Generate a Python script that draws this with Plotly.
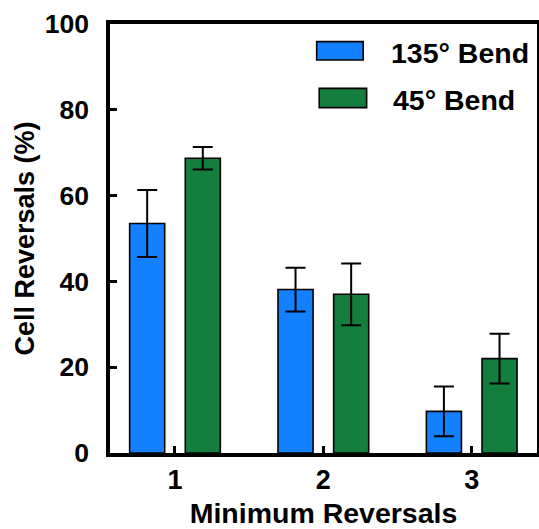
import plotly.graph_objects as go

categories = [1, 2, 3]
tick_labels = ["1", "2", "3"]
series_names = ["135° Bend", "45° Bend"]
bend135 = [53.5, 38.1, 9.7]
bend135_err = [7.8, 5.1, 5.8]
bend45 = [68.7, 37.0, 22.0]
bend45_err = [2.6, 7.2, 5.8]
y_ticks = [0, 20, 40, 60, 80, 100]

BLUE = "#1280FF"
GREEN = "#157E3F"
FONT = "Liberation Sans, Arial, Helvetica, sans-serif"

fig = go.Figure()
for name, vals, errs, col in [
    (series_names[0], bend135, bend135_err, BLUE),
    (series_names[1], bend45, bend45_err, GREEN),
]:
    fig.add_trace(go.Bar(
        x=categories, y=vals, name=name,
        marker=dict(color=col, line=dict(color="black", width=1.6)),
        error_y=dict(type="data", array=errs, visible=True,
                     color="black", thickness=2, width=10),
        showlegend=False,
    ))

# custom legend (swatches sized like the reference)
legend_rows = [
    (series_names[0], BLUE, 0.484, 0.593, 0.916, 0.959, 0.654, 0.932),
    (series_names[1], GREEN, 0.490, 0.601, 0.805, 0.850, 0.658, 0.823),
]
for name, col, x0, x1, y0, y1, tx, ty in legend_rows:
    fig.add_shape(type="rect", xref="paper", yref="paper",
                  x0=x0, x1=x1, y0=y0, y1=y1,
                  fillcolor=col, line=dict(color="black", width=1.6))
    fig.add_annotation(xref="paper", yref="paper", x=tx, y=ty,
                       xanchor="left", yanchor="middle", showarrow=False,
                       text=name,
                       font=dict(family=FONT, size=28.5, color="black", weight="bold"))

fig.update_layout(
    width=539, height=529,
    margin=dict(l=110, r=2, t=24, b=76, pad=0),
    paper_bgcolor="white", plot_bgcolor="white",
    barmode="group", bargap=0.25, bargroupgap=0.37,
    font=dict(family=FONT, size=28, color="black", weight="bold"),
)
fig.update_xaxes(
    range=[0.562, 3.44], tickmode="array", tickvals=categories, ticktext=tick_labels,
    showgrid=False, zeroline=False, automargin=False,
    showline=True, linecolor="black", linewidth=3.5, mirror=True,
    ticks="inside", ticklen=7, tickwidth=3, tickcolor="black",
    tickfont=dict(family=FONT, size=27, color="black", weight="bold"),
    title=dict(text="Minimum Reversals", standoff=19,
               font=dict(family=FONT, size=28.5, color="black", weight="bold")),
)
fig.update_yaxes(
    range=[0, 100], tickmode="array", tickvals=y_ticks,
    showgrid=False, zeroline=False, automargin=False,
    showline=True, linecolor="black", linewidth=3.5, mirror=True,
    ticks="inside", ticklen=7, tickwidth=3, tickcolor="black",
    ticklabelstandoff=12,
    tickfont=dict(family=FONT, size=26.5, color="black", weight="bold"),
    title=dict(text="Cell Reversals (%)", standoff=3,
               font=dict(family=FONT, size=27, color="black", weight="bold")),
)

fig.write_html("out.html", config={"displayModeBar": False},
               post_script="document.body.style.margin='0';document.body.style.overflow='hidden';")
